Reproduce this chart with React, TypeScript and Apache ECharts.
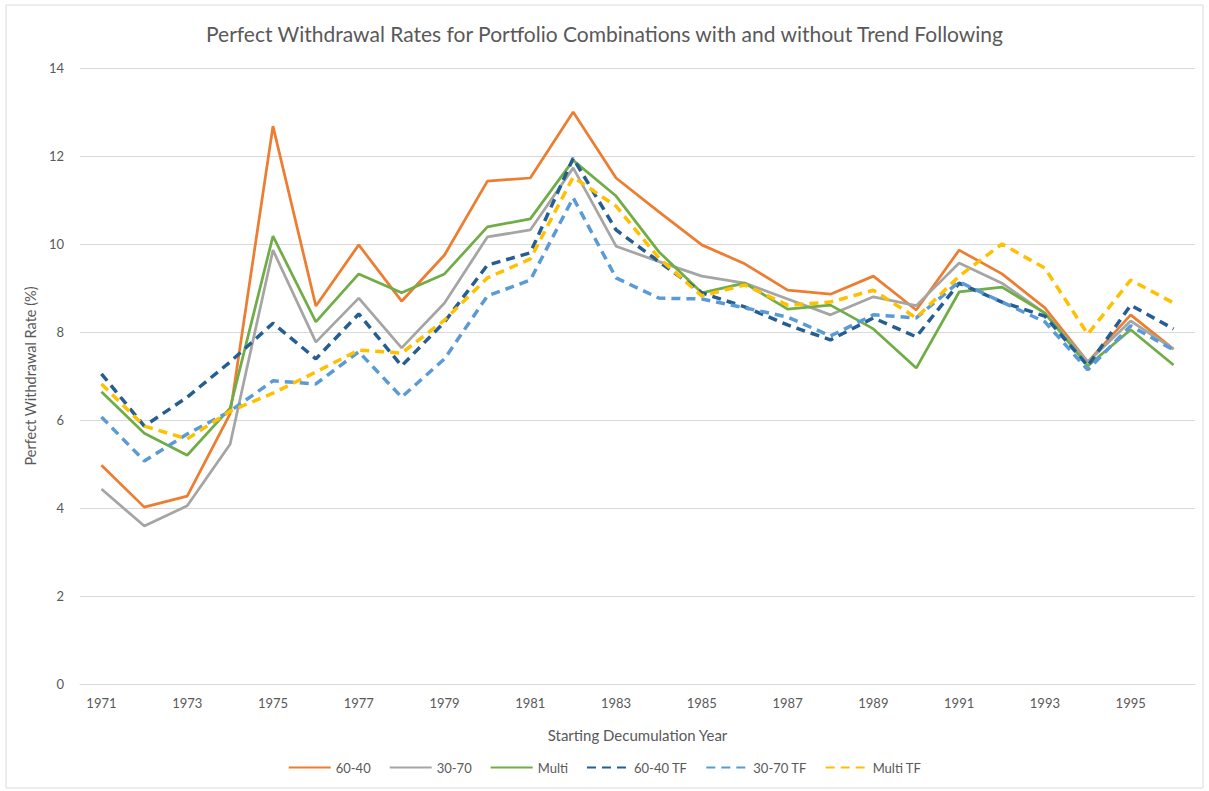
import React, { useEffect, useRef } from "react";
import * as echarts from "echarts";

const years = ["1971","1972","1973","1974","1975","1976","1977","1978","1979","1980","1981","1982","1983","1984","1985","1986","1987","1988","1989","1990","1991","1992","1993","1994","1995","1996"];

const s6040 = [4.97,4.02,4.27,6.14,12.68,8.59,9.98,8.7,9.75,11.43,11.5,13.0,11.5,10.73,9.98,9.55,8.95,8.86,9.27,8.5,9.86,9.32,8.55,7.32,8.39,7.61];
const s3070 = [4.43,3.59,4.05,5.45,9.86,7.77,8.77,7.64,8.66,10.16,10.32,11.73,9.95,9.6,9.27,9.11,8.75,8.39,8.8,8.6,9.57,9.11,8.43,7.32,8.25,7.61];
const sMulti = [6.64,5.7,5.2,6.27,10.18,8.23,9.32,8.89,9.32,10.39,10.57,11.9,11.09,9.82,8.89,9.11,8.52,8.61,8.07,7.18,8.91,9.02,8.43,7.23,8.05,7.25];
const s6040TF = [7.05,5.86,6.52,7.32,8.2,7.39,8.41,7.23,8.23,9.52,9.8,11.95,10.32,9.6,8.89,8.57,8.16,7.82,8.32,7.89,9.11,8.68,8.36,7.23,8.61,8.07];
const s3070TF = [6.07,5.07,5.68,6.2,6.89,6.82,7.55,6.52,7.39,8.82,9.18,11.05,9.23,8.77,8.75,8.55,8.34,7.91,8.39,8.32,9.14,8.68,8.23,7.14,8.14,7.59];
const sMultiTF = [6.82,5.86,5.57,6.2,6.61,7.09,7.59,7.52,8.27,9.23,9.66,11.52,10.86,9.68,8.82,9.07,8.61,8.68,8.95,8.32,9.27,10.0,9.45,7.95,9.18,8.66];

const seriesNames = ["60-40","30-70","Multi","60-40 TF","30-70 TF","Multi TF"];
const seriesData = [s6040, s3070, sMulti, s6040TF, s3070TF, sMultiTF];
const seriesColors = ["#ED7D31","#A5A5A5","#70AD47","#255E91","#5B9BD5","#FFC000"];
const seriesDashed = [false,false,false,true,true,true];

export default function App() {
  const ref = useRef<HTMLDivElement>(null);
  useEffect(() => {
    document.body.style.margin = "0";
    if (!ref.current) return;
    const chart = echarts.init(ref.current, null, { renderer: "svg" });
    const font = "Lato, 'Open Sans', sans-serif";
    chart.setOption({
      animation: false,
      backgroundColor: "#ffffff",
      textStyle: { fontFamily: font },
      title: {
        text: "Perfect Withdrawal Rates for Portfolio Combinations with and without Trend Following",
        left: "center",
        top: 18,
        textStyle: { fontFamily: font, fontSize: 21, fontWeight: "normal", color: "#595959" },
      },
      graphic: [
        {
          type: "rect",
          shape: { x: 6, y: 5, width: 1197, height: 783 },
          style: { fill: "none", stroke: "#D9D9D9", lineWidth: 1 },
          silent: true,
        },
      ],
      grid: { left: 80, right: 14, top: 68, bottom: 107, containLabel: false },
      legend: {
        data: seriesNames,
        bottom: 12,
        left: "center",
        itemWidth: 42,
        itemHeight: 10,
        itemGap: 18,
        itemStyle: { opacity: 0 },
        textStyle: { fontFamily: font, fontSize: 13, color: "#595959" },
      },
      xAxis: {
        type: "category",
        data: years,
        boundaryGap: true,
        name: "Starting Decumulation Year",
        nameLocation: "middle",
        nameGap: 43,
        nameTextStyle: { fontFamily: font, fontSize: 15, color: "#595959" },
        axisLine: { show: true, lineStyle: { color: "#D9D9D9", width: 1 } },
        axisTick: { show: false },
        axisLabel: { interval: 1, color: "#595959", fontSize: 13, margin: 12, fontFamily: font },
      },
      yAxis: {
        type: "value",
        min: 0,
        max: 14,
        interval: 2,
        name: "Perfect Withdrawal Rate (%)",
        nameLocation: "middle",
        nameGap: 38,
        nameTextStyle: { fontFamily: font, fontSize: 14.5, color: "#595959" },
        axisLine: { show: false },
        axisTick: { show: false },
        axisLabel: { color: "#595959", fontSize: 13, margin: 16, fontFamily: font },
        splitLine: { lineStyle: { color: "#D9D9D9", width: 1 } },
      },
      series: seriesNames.map((name, i) => ({
        name,
        type: "line",
        data: seriesData[i],
        symbol: "none",
        showSymbol: false,
        color: seriesColors[i],
        lineStyle: {
          color: seriesColors[i],
          width: seriesDashed[i] ? 3.5 : 2.75,
          type: seriesDashed[i] ? [9, 6] : "solid",
        },
        z: 2 + i,
      })),
    });
    return () => chart.dispose();
  }, []);
  return <div ref={ref} style={{ width: 1209, height: 791 }} />;
}
